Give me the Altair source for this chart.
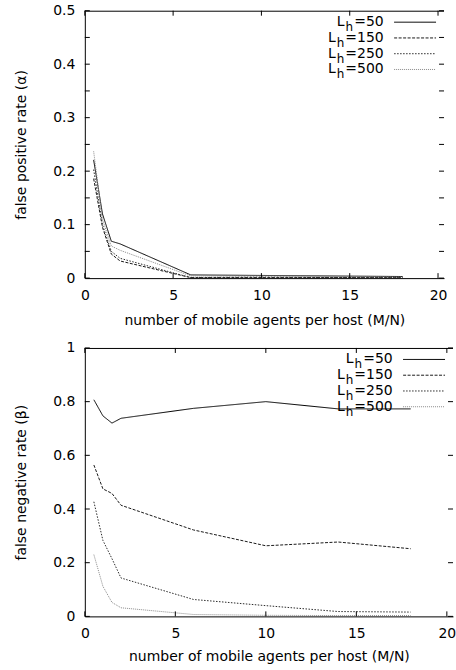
import altair as alt
import pandas as pd

# ---------------- data ----------------
x_vals = [0.5, 1, 1.5, 2, 6, 10, 14, 18]
series = ["Lh=50", "Lh=150", "Lh=250", "Lh=500"]
legend_nums = ["=50", "=150", "=250", "=500"]

# false positive rate (alpha)
fp_50 = [0.221, 0.120, 0.069, 0.064, 0.006, 0.005, 0.004, 0.003]
fp_150 = [0.186, 0.095, 0.045, 0.032, 0.001, 0.001, 0.001, 0.001]
fp_250 = [0.203, 0.100, 0.050, 0.037, 0.001, 0.002, 0.001, 0.001]
fp_500 = [0.237, 0.110, 0.060, 0.052, 0.004, 0.004, 0.003, 0.002]

# false negative rate (beta)
fn_50 = [0.807, 0.747, 0.720, 0.738, 0.775, 0.800, 0.773, 0.773]
fn_150 = [0.564, 0.475, 0.458, 0.414, 0.322, 0.263, 0.277, 0.252]
fn_250 = [0.427, 0.283, 0.215, 0.143, 0.063, 0.040, 0.018, 0.016]
fn_500 = [0.230, 0.112, 0.052, 0.032, 0.007, 0.004, 0.003, 0.003]

x_ticks = [0, 5, 10, 15, 20]
fp_ticks = [0, 0.05, 0.1, 0.15, 0.2, 0.25, 0.3, 0.35, 0.4, 0.45, 0.5]
fn_ticks = [0, 0.2, 0.4, 0.6, 0.8, 1]

x_title = "number of mobile agents per host (M/N)"
fp_title = "false positive rate (\u03b1)"
fn_title = "false negative rate (\u03b2)"

# ---------------- styles ----------------
FONT = "DejaVu Sans"
colors = ["#000000", "#1a1a1a", "#2a2a2a", "#8a8a8a"]
dashes = [[1, 0], [3, 1.5], [1.5, 1.5], [1, 1]]
X_DOMAIN = [0, 20.34]
TICK = 5


def panel(ydata, ytitle, ydomain, yticks, width, height, title_pad):
    rows = []
    for s, vals in zip(series, ydata):
        for x, v in zip(x_vals, vals):
            rows.append({"x": x, "v": v, "s": s})
    df = pd.DataFrame(rows)
    xscale = alt.Scale(domain=X_DOMAIN, nice=False, zero=False)
    yscale = alt.Scale(domain=ydomain, nice=False, zero=False)

    lines = alt.Chart(df).mark_line(strokeWidth=1, clip=True).encode(
        x=alt.X("x:Q", scale=xscale,
                axis=alt.Axis(values=x_ticks, title=x_title, format="~g",
                              ticks=False, tickSize=0, labelPadding=10,
                              labelFlush=False,
                              titlePadding=title_pad, grid=False)),
        y=alt.Y("v:Q", scale=yscale,
                axis=alt.Axis(values=yticks, title=ytitle, format="~g",
                              ticks=False, tickSize=0, labelPadding=10,
                              titlePadding=24, grid=False)),
        color=alt.Color("s:N", scale=alt.Scale(domain=series, range=colors), legend=None),
        strokeDash=alt.StrokeDash("s:N", scale=alt.Scale(domain=series, range=dashes), legend=None),
        detail="s:N",
    )

    xt = pd.DataFrame({"x": x_ticks})
    yt = pd.DataFrame({"v": yticks})
    tick_style = dict(strokeWidth=1)
    black = alt.value("black")
    xb = alt.Chart(xt).mark_rule(**tick_style).encode(
        x=alt.X("x:Q", scale=xscale),
        y=alt.value(height), y2=alt.value(height - TICK), color=black)
    xtop = alt.Chart(xt).mark_rule(**tick_style).encode(
        x=alt.X("x:Q", scale=xscale),
        y=alt.value(0), y2=alt.value(TICK), color=black)
    yl = alt.Chart(yt).mark_rule(**tick_style).encode(
        y=alt.Y("v:Q", scale=yscale),
        x=alt.value(0), x2=alt.value(TICK), color=black)
    yr = alt.Chart(yt).mark_rule(**tick_style).encode(
        y=alt.Y("v:Q", scale=yscale),
        x=alt.value(width - TICK), x2=alt.value(width), color=black)
    border = alt.Chart(pd.DataFrame({"a": [0]})).mark_rule(**tick_style).encode(
        x=alt.value(0), x2=alt.value(width), y=alt.value(0.5), color=black)

    # legend (inside, top right)
    one = pd.DataFrame({"a": [0]})
    leg = []
    text_r = width - 60.5
    for i, (s, num) in enumerate(zip(series, legend_nums)):
        base = 15.5 + 15.8 * i
        w_num = (0.838 + 0.636 * (len(num) - 1)) * 14 + 1
        leg.append(alt.Chart(one).mark_text(
            text=num, font=FONT, fontSize=14, align="right", baseline="alphabetic").encode(
            x=alt.value(text_r), y=alt.value(base), color=black))
        leg.append(alt.Chart(one).mark_text(
            text="h", font=FONT, fontSize=12, align="right", baseline="alphabetic").encode(
            x=alt.value(text_r - w_num), y=alt.value(base + 5), color=black))
        leg.append(alt.Chart(one).mark_text(
            text="L", font=FONT, fontSize=14, align="right", baseline="alphabetic").encode(
            x=alt.value(text_r - w_num - 0.634 * 12 - 1), y=alt.value(base), color=black))
        leg.append(alt.Chart(one).mark_rule(strokeWidth=1, strokeDash=dashes[i]).encode(
            x=alt.value(width - 50), x2=alt.value(width - 8), y=alt.value(base - 4),
            color=alt.value(colors[i])))

    return alt.layer(lines, xb, xtop, yl, yr, border, *leg).properties(
        width=width, height=height)


top = panel([fp_50, fp_150, fp_250, fp_500], fp_title, [0, 0.5], fp_ticks, 360, 268, 11)
bottom = panel([fn_50, fn_150, fn_250, fn_500], fn_title, [0, 1], fn_ticks, 369, 269, 9)

chart = alt.vconcat(top, bottom, spacing=14).properties(
    padding={"left": 14, "top": 3, "right": 0, "bottom": 0},
    background="white",
).configure_view(stroke=None).configure_axis(
    labelFont=FONT, labelFontSize=14, labelColor="black",
    titleFont=FONT, titleFontSize=14, titleFontWeight="normal", titleColor="black",
    domainColor="black", domainWidth=1,
)

chart.save("out.html", embed_options={"renderer": "svg", "actions": False})
